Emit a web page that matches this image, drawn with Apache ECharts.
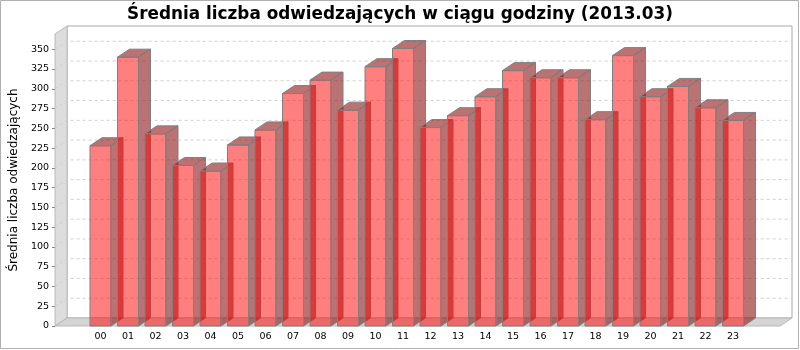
<!DOCTYPE html>
<html>
<head>
<meta charset="utf-8">
<script src="https://cdn.jsdelivr.net/npm/echarts@6/dist/echarts.min.js"></script>
<style>html,body{margin:0;padding:0;background:#fff}#c{width:800px;height:350px}</style>
</head>
<body>
<div id="c"></div>
<script>
const titleText = 'Średnia liczba odwiedzających w ciągu godziny (2013.03)';
const yAxisName = 'Średnia liczba odwiedzających';
const categories = ['00','01','02','03','04','05','06','07','08','09','10','11','12','13','14','15','16','17','18','19','20','21','22','23'];
const values = [228,340,243,203,196,229,248,294,311,273,328,351,251,266,290,323,314,314,261,342,290,303,276,260];
const yTicks = [0,25,50,75,100,125,150,175,200,225,250,275,300,325,350];

const DX = 12, DY = 8;
const YMAX = 369.3;
const FONT = 'DejaVu Sans';

const mctx = document.createElement('canvas').getContext('2d');
mctx.font = 'bold 18px "DejaVu Sans"';
const titleSize = Math.min(18, 18 * 546 / mctx.measureText(titleText).width);

const chart = echarts.init(document.getElementById('c'), null, {renderer: 'canvas'});

function renderWalls(params, api) {
  const bl = api.coord([0, 0]);
  const tr = api.coord([1, YMAX]);
  const x0 = bl[0], y0 = bl[1], x1 = tr[0], y1 = tr[1];
  const children = [];
  children.push({type: 'rect', shape: {x: x0 + DX, y: y1 - DY, width: x1 - x0, height: y0 - y1},
    style: {fill: '#ffffff', stroke: '#a8a8a8', lineWidth: 1}});
  children.push({type: 'polygon', shape: {points: [[x0, y1], [x0 + DX, y1 - DY], [x0 + DX, y0 - DY], [x0, y0]]},
    style: {fill: '#dddddd', stroke: '#b8b8b8', lineWidth: 1}});
  children.push({type: 'polygon', shape: {points: [[x0, y0], [x0 + DX, y0 - DY], [x1 + DX, y0 - DY], [x1, y0]]},
    style: {fill: '#d4d4d4', stroke: '#b8b8b8', lineWidth: 1}});
  yTicks.forEach(function (v) {
    if (v === 0) return;
    const p = api.coord([0, v]);
    children.push({type: 'polyline', shape: {points: [[x0, p[1]], [x0 + DX, p[1] - DY], [x1 + DX, p[1] - DY]]},
      style: {stroke: '#d0d0d0', lineWidth: 1, lineDash: [3, 3], fill: null}});
  });
  return {type: 'group', children: children};
}

function renderBar(params, api) {
  const i = api.value(0);
  const v = api.value(1);
  const base = api.coord([i, 0]);
  const top = api.coord([i, v]);
  const band = api.size([1, 0])[0];
  const w = band * 0.764;
  const x = base[0] - w / 2;
  const yb = base[1], yt = top[1];
  const edge = '#808080';
  return {
    type: 'group',
    children: [
      {type: 'polygon', shape: {points: [[x + w, yt], [x + w + DX, yt - DY], [x + w + DX, yb - DY], [x + w, yb]]},
        style: {fill: 'rgba(140,20,20,0.6)', stroke: edge, lineWidth: 1}},
      {type: 'polygon', shape: {points: [[x, yt], [x + DX, yt - DY], [x + w + DX, yt - DY], [x + w, yt]]},
        style: {fill: 'rgba(140,20,20,0.6)', stroke: edge, lineWidth: 1}},
      {type: 'rect', shape: {x: x, y: yt, width: w, height: yb - yt},
        style: {fill: 'rgba(255,0,0,0.5)', stroke: edge, lineWidth: 1}}
    ]
  };
}

chart.setOption({
  animation: false,
  backgroundColor: '#ffffff',
  title: {
    text: titleText, left: 'center', top: 1,
    textStyle: {fontFamily: FONT, fontSize: titleSize, fontWeight: 'bold', color: '#000'}
  },
  graphic: [{type: 'rect', shape: {x: 0.5, y: 0.5, width: 798, height: 348},
    style: {fill: null, stroke: '#b0b0b0', lineWidth: 1}, silent: true}],
  grid: [
    {left: 53, top: 34, width: 727, height: 292},
    {left: 86.75, top: 34, width: 660, height: 292}
  ],
  xAxis: [
    {gridIndex: 0, type: 'value', min: 0, max: 1, show: false},
    {gridIndex: 1, type: 'category', data: categories, boundaryGap: true,
      axisLine: {show: false}, axisTick: {show: false}, splitLine: {show: false},
      axisLabel: {color: '#000', fontSize: 9.5, fontFamily: FONT, margin: 6, interval: 0}}
  ],
  yAxis: [
    {gridIndex: 0, type: 'value', min: 0, max: YMAX, interval: 25,
      name: yAxisName, nameLocation: 'middle', nameGap: 28,
      nameTextStyle: {fontFamily: FONT, fontSize: 12, color: '#000'},
      axisLine: {show: false},
      axisTick: {show: true, length: 3, lineStyle: {color: '#808080'}, customValues: yTicks},
      axisLabel: {color: '#000', fontSize: 9.5, fontFamily: FONT, margin: 6, customValues: yTicks},
      splitLine: {show: false}},
    {gridIndex: 1, type: 'value', min: 0, max: YMAX, show: false}
  ],
  series: [
    {type: 'custom', xAxisIndex: 0, yAxisIndex: 0, data: [[0, 0]], renderItem: renderWalls, silent: true, z: 1},
    {type: 'custom', xAxisIndex: 1, yAxisIndex: 1, data: values.map(function (v, i) { return [i, v]; }),
      renderItem: renderBar, silent: true, z: 2}
  ]
});
</script>
</body>
</html>
